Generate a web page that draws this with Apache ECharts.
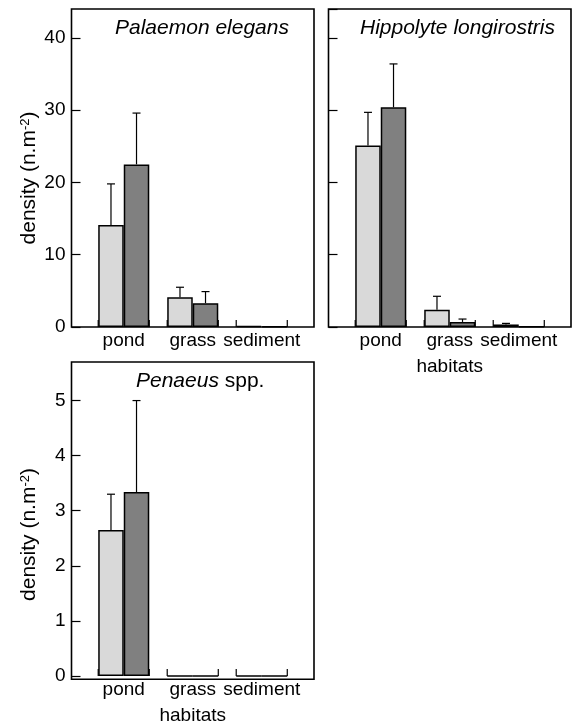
<!DOCTYPE html>
<html>
<head>
<meta charset="utf-8">
<script src="https://cdn.jsdelivr.net/npm/echarts@6/dist/echarts.min.js"></script>
<style>
html,body{margin:0;padding:0;background:#fff;}
#chart{width:579px;height:726px;}
</style>
</head>
<body>
<div id="chart"></div>
<script>
// ---- data ----
const categories = ['pond', 'grass', 'sediment'];
const yTicksTop = [0, 10, 20, 30, 40];
const yTicksBottom = [0, 1, 2, 3, 4, 5];

const palaemonLight = [14.1, 4.1, 0.15];
const palaemonLightErr = [5.7, 1.4, 0];
const palaemonDark = [22.5, 3.3, 0.1];
const palaemonDarkErr = [7.1, 1.6, 0];

const hippolyteLight = [25.1, 2.4, 0.35];
const hippolyteLightErr = [4.6, 1.85, 0.15];
const hippolyteDark = [30.4, 0.7, 0.05];
const hippolyteDarkErr = [6.0, 0.4, 0];

const penaeusLight = [2.65, 0, 0];
const penaeusLightErr = [0.65, 0, 0];
const penaeusDark = [3.34, 0, 0];
const penaeusDarkErr = [1.66, 0, 0];

// ---- styles ----
const FONT = "'Liberation Sans', Arial, Helvetica, sans-serif";
const LIGHT = '#d9d9d9';
const DARK = '#808080';
const BAR_FRAC = 0.37;

const panels = [
  {frame: {left: 71.5, top: 9, width: 242.5, height: 318}, max: 44, interval: 10, labels: true, xName: '',
   namePad: -20,
   title: '{i|Palaemon elegans}', titlePos: {left: 110, top: 13},
   light: palaemonLight, lightErr: palaemonLightErr, dark: palaemonDark, darkErr: palaemonDarkErr},
  {frame: {left: 328.5, top: 9, width: 242.5, height: 318}, max: 44, interval: 10, labels: false, xName: 'habitats',
   namePad: 0,
   title: '{i|Hippolyte longirostris}', titlePos: {left: 355, top: 13},
   light: hippolyteLight, lightErr: hippolyteLightErr, dark: hippolyteDark, darkErr: hippolyteDarkErr},
  {frame: {left: 71.5, top: 362, width: 242.5, height: 317.3}, max: 5.7, interval: 1, labels: true, xName: 'habitats',
   namePad: -31,
   title: '{i|Penaeus} spp.', titlePos: {left: 131, top: 366},
   light: penaeusLight, lightErr: penaeusLightErr, dark: penaeusDark, darkErr: penaeusDarkErr}
];

const grid = [], xAxis = [], yAxis = [], series = [], title = [];

function errRender(sign) {
  return function (params, api) {
    const cat = api.value(0), v = api.value(1), e = api.value(2);
    if (!(e > 0)) return null;
    const band = api.size([1, 0])[0];
    const p0 = api.coord([cat, v]);
    const p1 = api.coord([cat, v + e]);
    const x = p0[0] + sign * band * BAR_FRAC / 2;
    return {
      type: 'group',
      children: [
        {type: 'line', shape: {x1: x, y1: p0[1], x2: x, y2: p1[1]}, style: {stroke: '#000', lineWidth: 1.2}},
        {type: 'line', shape: {x1: x - 4, y1: p1[1], x2: x + 4, y2: p1[1]}, style: {stroke: '#000', lineWidth: 1.2}}
      ]
    };
  };
}

function bracketRender(params, api) {
  const cat = api.value(0);
  const band = api.size([1, 0])[0];
  const p = api.coord([cat, 0]);
  const h = band * BAR_FRAC;
  return {
    type: 'group',
    children: [
      {type: 'line', shape: {x1: p[0] - h, y1: p[1], x2: p[0] - h, y2: p[1] - 7}, style: {stroke: '#000', lineWidth: 1.2}},
      {type: 'line', shape: {x1: p[0] + h, y1: p[1], x2: p[0] + h, y2: p[1] - 7}, style: {stroke: '#000', lineWidth: 1.2}}
    ]
  };
}

panels.forEach((pn, k) => {
  const f = pn.frame;
  const inset = 17.75;
  const dataGrid = grid.length;
  grid.push({left: f.left + inset, top: f.top, width: f.width - 2 * inset, height: f.height, containLabel: false});
  const frameGrid = grid.length;
  grid.push({left: f.left, top: f.top, width: f.width, height: f.height, show: true,
    borderColor: '#000', borderWidth: 1.6, backgroundColor: 'transparent', containLabel: false});

  const xi = xAxis.length;
  xAxis.push({
    type: 'category', gridIndex: dataGrid, data: categories,
    axisLine: {show: false}, axisTick: {show: false},
    axisLabel: {color: '#000', fontSize: 19, fontFamily: FONT, margin: 4, interval: 0},
    name: pn.xName, nameLocation: 'middle', nameGap: 30,
    nameTextStyle: {color: '#000', fontSize: 19, fontFamily: FONT}
  });
  xAxis.push({type: 'value', gridIndex: frameGrid, show: false});

  const yi = yAxis.length;
  yAxis.push({
    type: 'value', gridIndex: dataGrid, min: 0, max: pn.max, interval: pn.interval,
    offset: inset,
    splitLine: {show: false},
    axisLine: {show: false},
    axisTick: {show: true, inside: true, length: 9, lineStyle: {color: '#000', width: 1.2}},
    axisLabel: {show: pn.labels, color: '#000', fontSize: 19, fontFamily: FONT, margin: 6,
      showMaxLabel: false},
    name: pn.labels ? 'density (n.m{sup|-2})' : '',
    nameLocation: 'middle', nameGap: 31, nameRotate: 90,
    nameTextStyle: {color: '#000', fontSize: 21, fontFamily: FONT, padding: [0, 0, 0, pn.namePad],
      rich: {sup: {fontSize: 13, fontFamily: FONT, color: '#000', verticalAlign: 'top', padding: [0, 0, 9, 0]}}}
  });
  yAxis.push({type: 'value', gridIndex: frameGrid, show: false});

  title.push({
    text: pn.title, left: pn.titlePos.left, top: pn.titlePos.top,
    textStyle: {color: '#000', fontSize: 21, fontWeight: 'normal', fontFamily: FONT,
      rich: {i: {fontStyle: 'italic', fontSize: 21, fontFamily: FONT, color: '#000'}}}
  });

  series.push({
    type: 'custom', xAxisIndex: xi, yAxisIndex: yi, z: 1, silent: true,
    renderItem: bracketRender, data: categories.map((c, i) => [i, 0])
  });
  series.push({
    type: 'bar', name: 'group 1', xAxisIndex: xi, yAxisIndex: yi, data: pn.light,
    barWidth: (BAR_FRAC * 100) + '%', barGap: '0%', z: 2,
    itemStyle: {color: LIGHT, borderColor: '#000', borderWidth: 1.5}
  });
  series.push({
    type: 'bar', name: 'group 2', xAxisIndex: xi, yAxisIndex: yi, data: pn.dark,
    barWidth: (BAR_FRAC * 100) + '%', barGap: '0%', z: 2,
    itemStyle: {color: DARK, borderColor: '#000', borderWidth: 1.5}
  });
  series.push({
    type: 'custom', xAxisIndex: xi, yAxisIndex: yi, z: 3, silent: true,
    renderItem: errRender(-1), data: pn.light.map((v, i) => [i, v, pn.lightErr[i]])
  });
  series.push({
    type: 'custom', xAxisIndex: xi, yAxisIndex: yi, z: 3, silent: true,
    renderItem: errRender(1), data: pn.dark.map((v, i) => [i, v, pn.darkErr[i]])
  });
});

const chart = echarts.init(document.getElementById('chart'), null, {renderer: 'canvas'});
chart.setOption({
  animation: false,
  backgroundColor: '#fff',
  title: title,
  grid: grid,
  xAxis: xAxis,
  yAxis: yAxis,
  series: series
});
</script>
</body>
</html>
